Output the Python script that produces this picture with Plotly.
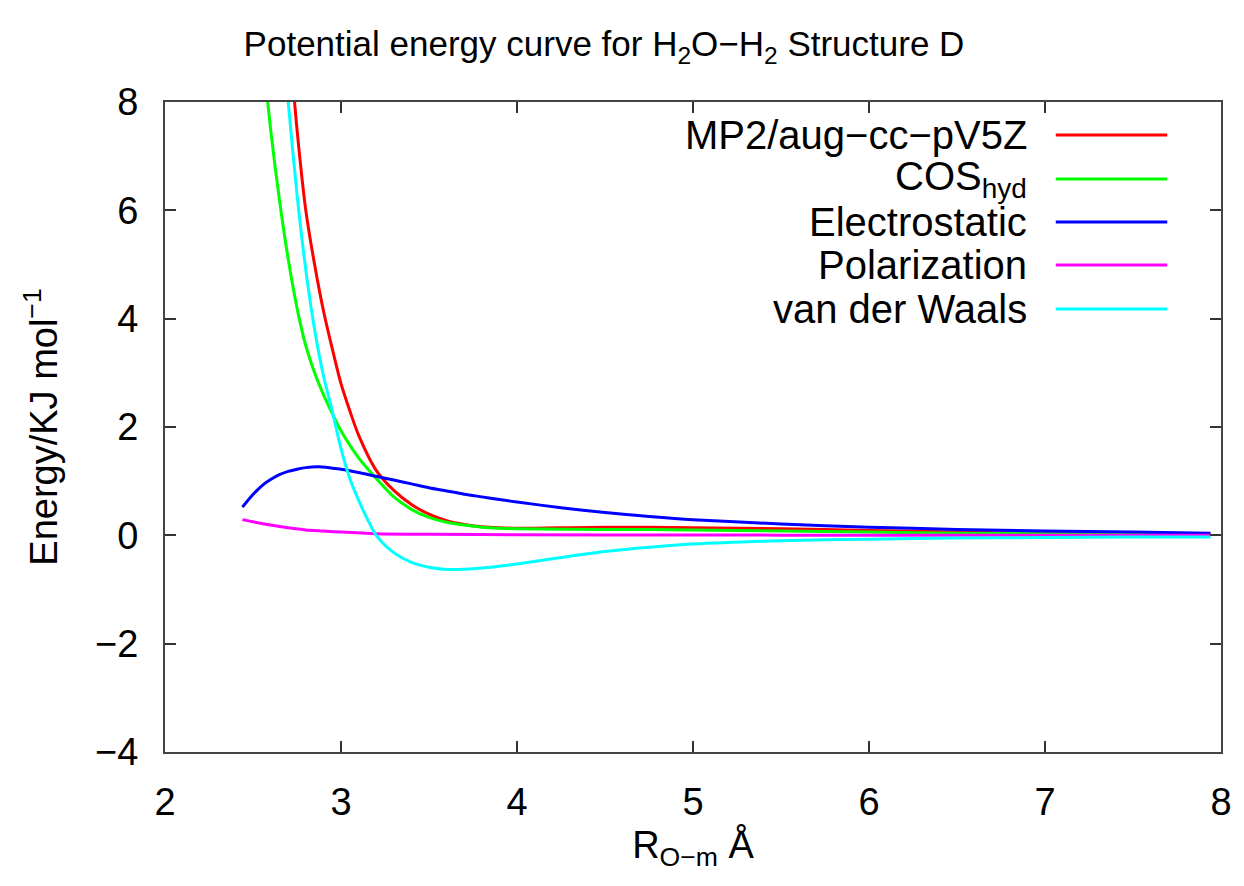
import plotly.graph_objects as go

# ---- data ----
r_mp2 = [2.70, 2.75, 2.80, 2.85, 2.90, 2.95, 3.00, 3.05, 3.10, 3.20, 3.30, 3.40, 3.50, 3.60, 3.70, 3.80, 3.90, 4.00, 4.50, 5.00, 5.50, 6.00, 6.50, 7.00, 7.50, 7.94]
e_mp2 = [9.4, 7.5, 6.0, 5.0, 4.15, 3.45, 2.8, 2.3, 1.85, 1.2, 0.83, 0.57, 0.39, 0.27, 0.20, 0.16, 0.14, 0.13, 0.15, 0.14, 0.12, 0.09, 0.06, 0.04, 0.03, 0.02]

r_cos = [2.55, 2.60, 2.65, 2.70, 2.75, 2.80, 2.85, 2.90, 2.95, 3.00, 3.10, 3.20, 3.30, 3.40, 3.50, 3.60, 3.70, 3.80, 3.90, 4.00, 4.50, 5.00, 5.50, 6.00, 6.50, 7.00, 7.50, 7.94]
e_cos = [9.1, 7.5, 6.2, 5.1, 4.2, 3.5, 3.0, 2.6, 2.25, 1.93, 1.43, 1.05, 0.71, 0.48, 0.33, 0.24, 0.19, 0.15, 0.13, 0.12, 0.11, 0.10, 0.08, 0.06, 0.04, 0.03, 0.02, 0.015]

r_ele = [2.44, 2.48, 2.52, 2.56, 2.60, 2.65, 2.70, 2.75, 2.80, 2.87, 2.95, 3.00, 3.10, 3.20, 3.30, 3.40, 3.50, 3.60, 3.70, 3.80, 3.90, 4.00, 4.25, 4.50, 4.75, 5.00, 5.50, 6.00, 6.50, 7.00, 7.50, 7.94]
e_ele = [0.52, 0.68, 0.82, 0.94, 1.03, 1.12, 1.18, 1.22, 1.25, 1.265, 1.24, 1.22, 1.16, 1.09, 1.02, 0.95, 0.88, 0.82, 0.76, 0.71, 0.66, 0.615, 0.51, 0.42, 0.35, 0.29, 0.21, 0.15, 0.11, 0.08, 0.06, 0.04]

r_pol = [2.44, 2.50, 2.60, 2.70, 2.80, 2.90, 3.00, 3.20, 3.50, 4.00, 5.00, 6.00, 7.00, 7.94]
e_pol = [0.29, 0.25, 0.19, 0.14, 0.10, 0.08, 0.06, 0.03, 0.02, 0.01, 0.005, 0.003, 0.002, 0.002]

r_vdw = [2.65, 2.70, 2.75, 2.80, 2.85, 2.90, 2.95, 3.00, 3.05, 3.10, 3.15, 3.20, 3.30, 3.40, 3.50, 3.60, 3.70, 3.80, 3.90, 4.00, 4.25, 4.50, 4.75, 5.00, 5.50, 6.00, 6.50, 7.00, 7.50, 7.94]
e_vdw = [10.0, 8.0, 6.3, 4.9, 3.8, 2.95, 2.3, 1.6, 1.05, 0.65, 0.3, 0.0, -0.32, -0.50, -0.59, -0.63, -0.625, -0.605, -0.57, -0.53, -0.41, -0.30, -0.22, -0.16, -0.10, -0.07, -0.05, -0.04, -0.03, -0.03]

names = ["MP2/aug\u2212cc\u2212pV5Z", "COS<sub>hyd</sub>", "Electrostatic", "Polarization", "van der Waals"]
colors = ["#ff0000", "#00ff00", "#0000ff", "#ff00ff", "#00ffff"]
series = [(r_mp2, e_mp2), (r_cos, e_cos), (r_ele, e_ele), (r_pol, e_pol), (r_vdw, e_vdw)]

x_ticks = [2, 3, 4, 5, 6, 7, 8]
y_ticks = [-4, -2, 0, 2, 4, 6, 8]

FONT = "Liberation Sans, Arial, sans-serif"

# page has an 8px body margin; figure coordinates = page coordinates - 8
OFF = 8
W, H = 1244 - OFF, 886 - OFF
L, R, T, B = 165 - OFF, 1226 - OFF, 102 - OFF, 752 - OFF

def px(xp):
    return (xp - OFF - L) / (R - L)

def py(yp):
    return (B - (yp - OFF)) / (B - T)

fig = go.Figure()
for (xs, ys), nm, c in zip(series, names, colors):
    fig.add_trace(go.Scatter(x=xs, y=ys, mode="lines", name=nm,
                             line=dict(color=c, width=3, shape="spline", smoothing=0.8),
                             showlegend=False))

# manual legend (text left of line sample, gnuplot style)
leg_y = [135, 179, 222, 265, 309]
for nm, c, yy in zip(names, colors, leg_y):
    fig.add_annotation(x=px(1033), y=py(yy), xref="paper", yref="paper",
                       text=nm, showarrow=False, xanchor="right", yanchor="middle",
                       font=dict(family=FONT, size=40, color="black"))
    fig.add_shape(type="line", xref="paper", yref="paper",
                  x0=px(1060), x1=px(1172), y0=py(yy), y1=py(yy),
                  line=dict(color=c, width=3))

axis_common = dict(showgrid=False, zeroline=False, ticks="inside", ticklen=11,
                   tickwidth=2, tickcolor="#333", showline=True, linecolor="#444",
                   linewidth=2, mirror="allticks",
                   tickfont=dict(family=FONT, size=38, color="black"))

fig.update_layout(
    width=W, height=H,
    paper_bgcolor="white", plot_bgcolor="white",
    margin=dict(l=L, r=W - R, t=T, b=H - B),
    title=dict(text="Potential energy curve for H<sub>2</sub>O\u2212H<sub>2</sub> Structure D",
               x=(604 - OFF) / W, xanchor="center", y=1 - (44 - OFF) / H, yanchor="middle",
               font=dict(family=FONT, size=35, color="black")),
    xaxis=dict(range=[2, 8], tickvals=x_ticks, ticklabelstandoff=15,
               title=dict(text="R<sub>O\u2212m</sub> \u00c5", standoff=3,
                          font=dict(family=FONT, size=38, color="black")),
               **axis_common),
    yaxis=dict(range=[-4, 8], tickvals=y_ticks, ticklabelstandoff=17,
               title=dict(text="Energy/KJ mol<sup>\u22121</sup>", standoff=26,
                          font=dict(family=FONT, size=38, color="black")),
               **axis_common),
)

fig.write_html("out.html")
